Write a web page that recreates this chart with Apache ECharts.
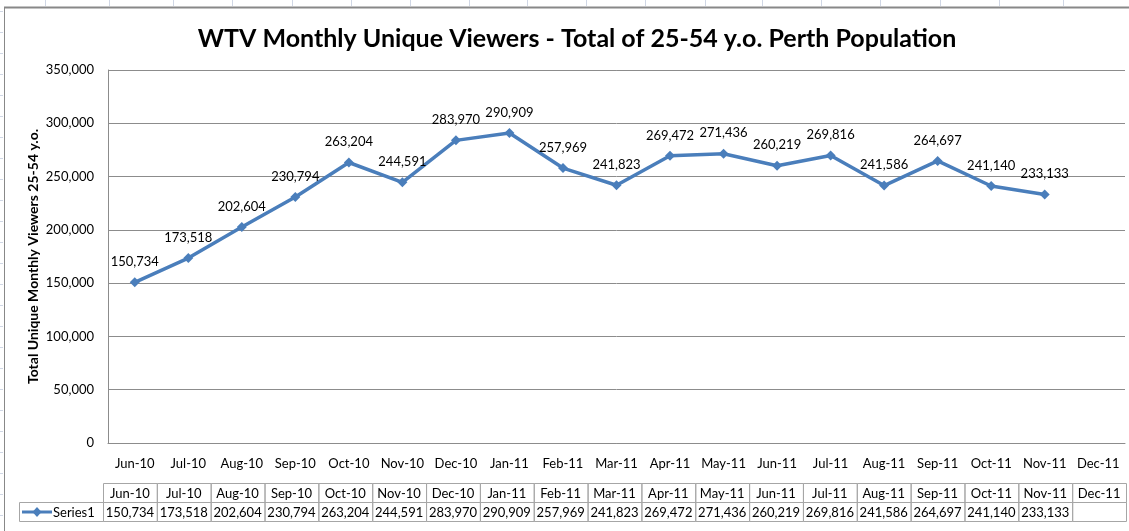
<!DOCTYPE html>
<html>
<head>
<meta charset="utf-8">
<title>WTV Monthly Unique Viewers</title>
<script src="https://cdn.jsdelivr.net/npm/echarts@6/dist/echarts.min.js"></script>
<style>
  html, body { margin: 0; padding: 0; background: #fff; }
  #chart { width: 1129px; height: 531px; }
</style>
</head>
<body>
<div id="chart"></div>
<script>
// months on the category axis
var categories = ['Jun-10', 'Jul-10', 'Aug-10', 'Sep-10', 'Oct-10', 'Nov-10', 'Dec-10', 'Jan-11', 'Feb-11', 'Mar-11',
  'Apr-11', 'May-11', 'Jun-11', 'Jul-11', 'Aug-11', 'Sep-11', 'Oct-11', 'Nov-11', 'Dec-11']
// Series1 values (Dec-11 has no value)
var series1 = [150734, 173518, 202604, 230794, 263204, 244591, 283970, 290909, 257969, 241823,
  269472, 271436, 260219, 269816, 241586, 264697, 241140, 233133, null]
var yTicks = [0, 50000, 100000, 150000, 200000, 250000, 300000, 350000]

var FONT = 'Lato'
var LINE_COLOR = '#4a7ebb'
var GRID_COLOR = '#8c8c8c'

function fmt(v) {
  return v == null ? '' : String(v).replace(/\B(?=(\d{3})+(?!\d))/g, ',')
}

var chart = echarts.init(document.getElementById('chart'), null, { renderer: 'canvas' })

chart.setOption({
  backgroundColor: '#fff',
  animation: false,
  title: {
    text: 'WTV Monthly Unique Viewers - Total of 25-54 y.o. Perth Population',
    left: 572,
    textAlign: 'center',
    top: 21,
    textStyle: { fontFamily: FONT, fontSize: 25, fontWeight: 'bold', color: '#000' }
  },
  grid: { left: 108, right: 4, top: 70, bottom: 88, containLabel: false },
  xAxis: {
    type: 'category',
    data: categories,
    boundaryGap: true,
    axisLine: { lineStyle: { color: GRID_COLOR, width: 1 } },
    axisTick: { show: false },
    axisLabel: { margin: 14, color: '#000', fontFamily: FONT, fontSize: 13, interval: 0 },
    splitLine: { show: false }
  },
  yAxis: {
    type: 'value',
    min: yTicks[0],
    max: yTicks[yTicks.length - 1],
    interval: yTicks[1] - yTicks[0],
    name: 'Total Unique Monthly Viewers 25-54 y.o.',
    nameLocation: 'middle',
    nameGap: 68,
    nameMoveOverlap: false,
    nameTextStyle: { fontFamily: FONT, fontSize: 14, fontWeight: 'bold', color: '#000' },
    axisLine: { show: true, lineStyle: { color: GRID_COLOR } },
    axisTick: { show: false },
    axisLabel: { margin: 14, color: '#000', fontFamily: FONT, fontSize: 13, formatter: fmt },
    splitLine: { lineStyle: { color: GRID_COLOR, width: 1 } }
  },
  series: [{
    name: 'Series1',
    type: 'line',
    data: series1,
    symbol: 'diamond',
    symbolSize: 10,
    lineStyle: { color: LINE_COLOR, width: 3.5 },
    itemStyle: { color: LINE_COLOR },
    label: {
      show: true,
      position: 'top',
      distance: 9,
      color: '#000',
      fontFamily: FONT,
      fontSize: 13,
      formatter: function (p) { return fmt(p.value) }
    }
  }]
})

// data table + frame drawn under the plot, columns follow the category axis
function drawExtras() {
  var n = categories.length
  var c0 = chart.convertToPixel({ xAxisIndex: 0 }, 0)
  var cN = chart.convertToPixel({ xAxisIndex: 0 }, n - 1)
  var step = (cN - c0) / (n - 1)
  var tLeft = c0 - step / 2 - 5
  var tRight = cN + step / 2 + 1
  var colW = (tRight - tLeft) / n
  var keyLeft = 19
  var rowTop = 483, rowH = 19
  var border = '#a6a6a6'
  var font = '13px ' + FONT
  var els = []

  // sheet gridlines peeking around the chart object
  var sheetX = [45, 109, 173, 232, 292, 351, 410, 469, 527, 586, 645, 705, 762, 821, 880, 940, 999, 1063]
  sheetX.forEach(function (x) {
    els.push({ type: 'line', shape: { x1: x + 0.5, y1: 0, x2: x + 0.5, y2: 6 }, style: { stroke: '#d0d7e5', lineWidth: 1 } })
  })
  for (var y = 11; y < 531; y += 21) {
    els.push({ type: 'line', shape: { x1: 0, y1: y + 0.5, x2: 3, y2: y + 0.5 }, style: { stroke: '#d0d7e5', lineWidth: 1 } })
  }
  // chart object border
  els.push({ type: 'line', shape: { x1: 4, y1: 7.5, x2: 1129, y2: 7.5 }, style: { stroke: '#888', lineWidth: 2 } })
  els.push({ type: 'line', shape: { x1: 4.5, y1: 7, x2: 4.5, y2: 531 }, style: { stroke: '#888', lineWidth: 1 } })
  // plot area top edge
  els.push({ type: 'line', shape: { x1: 108, y1: 70.5, x2: 1125, y2: 70.5 }, style: { stroke: GRID_COLOR, lineWidth: 1 } })

  // header row and data row
  for (var i = 0; i < n; i++) {
    var x = tLeft + i * colW
    els.push({ type: 'rect', shape: { x: x + 0.5, y: rowTop + 0.5, width: colW, height: rowH }, style: { fill: 'none', stroke: border, lineWidth: 1 } })
    els.push({ type: 'rect', shape: { x: x + 0.5, y: rowTop + rowH + 0.5, width: colW, height: rowH }, style: { fill: 'none', stroke: border, lineWidth: 1 } })
    els.push({ type: 'text', x: x + colW / 2, y: rowTop + rowH / 2 + 1, style: { text: categories[i], align: 'center', verticalAlign: 'middle', font: font, fill: '#000' } })
    els.push({ type: 'text', x: x + colW / 2, y: rowTop + rowH * 1.5 + 1, style: { text: fmt(series1[i]), align: 'center', verticalAlign: 'middle', font: font, fill: '#000' } })
  }
  // legend key cell
  var keyY = rowTop + rowH * 1.5 + 0.5
  els.push({ type: 'rect', shape: { x: keyLeft + 0.5, y: rowTop + rowH + 0.5, width: tLeft - keyLeft, height: rowH }, style: { fill: 'none', stroke: border, lineWidth: 1 } })
  els.push({ type: 'line', shape: { x1: keyLeft + 3, y1: keyY, x2: keyLeft + 33, y2: keyY }, style: { stroke: LINE_COLOR, lineWidth: 3 } })
  els.push({ type: 'polygon', shape: { points: [[keyLeft + 18, keyY - 5], [keyLeft + 22.5, keyY], [keyLeft + 18, keyY + 5], [keyLeft + 13.5, keyY]] }, style: { fill: LINE_COLOR } })
  els.push({ type: 'text', x: keyLeft + 34, y: rowTop + rowH * 1.5 + 1, style: { text: 'Series1', align: 'left', verticalAlign: 'middle', font: font, fill: '#000' } })

  chart.setOption({ graphic: { elements: els } })
}

drawExtras()
</script>
</body>
</html>
